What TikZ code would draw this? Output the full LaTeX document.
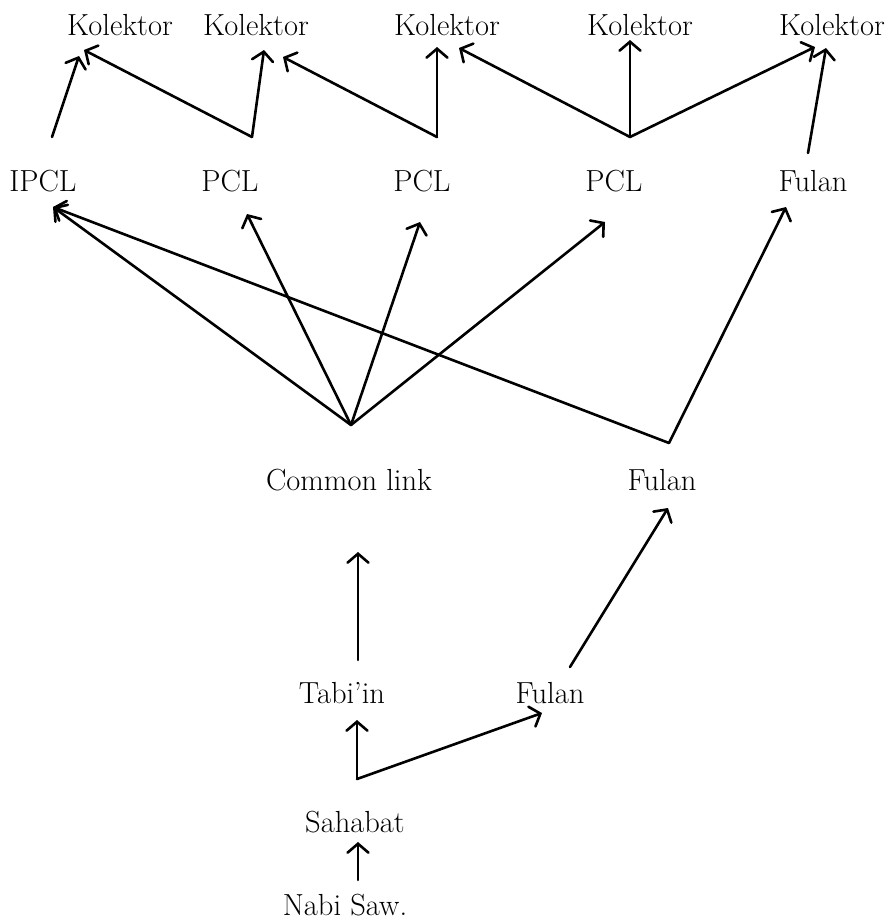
\documentclass[tikz,border=0pt]{standalone}
\usepackage{fontspec}
\usetikzlibrary{arrows.meta}
\begin{document}
\begin{tikzpicture}[x=1pt,y=-1pt,
  lbl/.style={anchor=base, inner sep=0pt, font=\fontsize{30.5}{36}\selectfont},
  link/.style={line width=2.6pt, line cap=round,
    -{Straight Barb[length=9pt,width=21pt,line cap=round]}}]
\useasboundingbox (0,0) rectangle (891,920);

% ---- labels (base line positions) ----
\node[lbl] (k1) at (120,36) {Kolektor};
\node[lbl] (k2) at (256,36) {Kolektor};
\node[lbl] (k3) at (447,36) {Kolektor};
\node[lbl] (k4) at (640,36) {Kolektor};
\node[lbl] (k5) at (832,36) {Kolektor};

\node[lbl] (ipcl) at (43,192) {IPCL};
\node[lbl] (pcla) at (230,192) {PCL};
\node[lbl] (pclb) at (422,192) {PCL};
\node[lbl] (pclc) at (614,192) {PCL};
\node[lbl] (fula) at (813,192) {Fulan};

\node[lbl] (cl)   at (349,490) {Common link};
\node[lbl] (fulb) at (662,490) {Fulan};

\node[lbl] (tabi) at (342,703) {Tabi'in};
\node[lbl] (fulc) at (550,703) {Fulan};

\node[lbl] (saha) at (355,832) {Sahabat};
\node[lbl] (nabi) at (345,915) {Nabi Saw.};

% ---- connector end points ----
\coordinate (ipclT) at (52,137);
\coordinate (pclaT) at (252,137);
\coordinate (pclbT) at (437,137);
\coordinate (pclcT) at (630,137);
\coordinate (fulaT) at (808,153);

\coordinate (k1a) at (79,56);
\coordinate (k1b) at (84,50);
\coordinate (k2a) at (264,50);
\coordinate (k2b) at (283,57);
\coordinate (k3a) at (437,47);
\coordinate (k3b) at (459,48);
\coordinate (k4a) at (630,40);
\coordinate (k5a) at (815,47);
\coordinate (k5b) at (826,48);

\coordinate (clT)   at (351,425);
\coordinate (fulbT) at (669,443);
\coordinate (ipclH) at (53,207);
\coordinate (pclaH) at (247,214);
\coordinate (pclbH) at (420,222);
\coordinate (pclcH) at (605,222);
\coordinate (fulaH) at (786,207);

\coordinate (clH)   at (358,552);
\coordinate (tabiT) at (358,660);
\coordinate (fulcT) at (570,667);
\coordinate (fulbH) at (668,508);

\coordinate (sahaT) at (357,779);
\coordinate (tabiH) at (357,720);
\coordinate (fulcH) at (542,713);

\coordinate (nabiT) at (358,880);
\coordinate (sahaH) at (358,842);

% ---- connectors: top tier ----
\draw[link] (ipclT) -- (k1a);
\draw[link] (pclaT) -- (k1b);
\draw[link] (pclaT) -- (k2a);
\draw[link] (pclbT) -- (k2b);
\draw[link] (pclbT) -- (k3a);
\draw[link] (pclcT) -- (k3b);
\draw[link] (pclcT) -- (k4a);
\draw[link] (pclcT) -- (k5a);
\draw[link] (fulaT) -- (k5b);

% ---- connectors: middle tier ----
\draw[link] (clT) -- (ipclH);
\draw[link] (clT) -- (pclaH);
\draw[link] (clT) -- (pclbH);
\draw[link] (clT) -- (pclcH);
\draw[link] (fulbT) -- (ipclH);
\draw[link] (fulbT) -- (fulaH);

% ---- connectors: lower tier ----
\draw[link] (tabiT) -- (clH);
\draw[link] (fulcT) -- (fulbH);
\draw[link] (sahaT) -- (tabiH);
\draw[link] (sahaT) -- (fulcH);
\draw[link] (nabiT) -- (sahaH);
\end{tikzpicture}
\end{document}
